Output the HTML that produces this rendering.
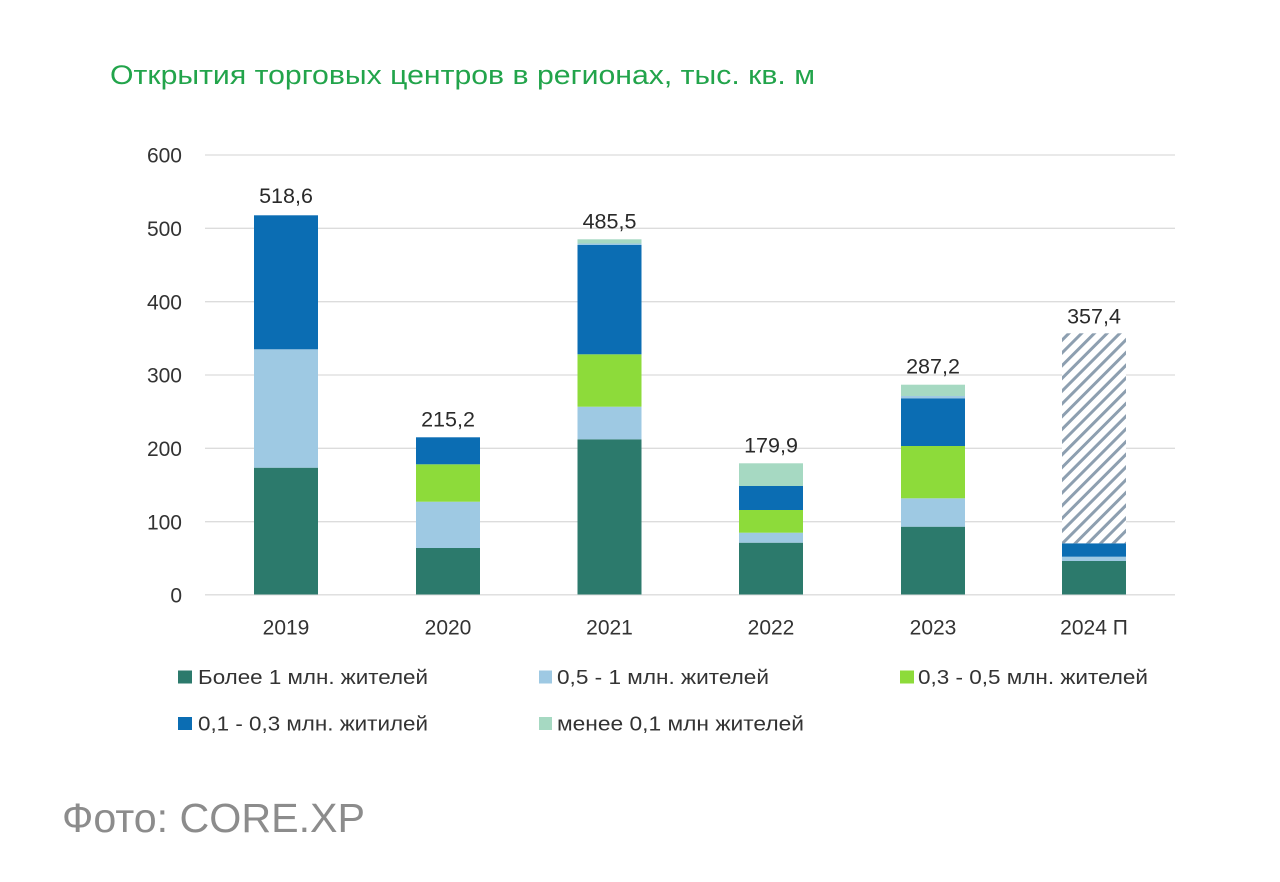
<!DOCTYPE html>
<html>
<head>
<meta charset="utf-8">
<style>
html,body{margin:0;padding:0;background:#ffffff;}
svg{display:block;}
text{font-family:"Liberation Sans","DejaVu Sans",sans-serif;}
</style>
</head>
<body>
<svg width="1280" height="882" viewBox="0 0 1280 882" xmlns="http://www.w3.org/2000/svg">
<defs>
<pattern id="hatch" patternUnits="userSpaceOnUse" width="9" height="9" patternTransform="rotate(45)">
<rect width="9" height="9" fill="#ffffff"/>
<rect x="0" y="0" width="3" height="9" fill="#8d9fb0"/>
</pattern>
</defs>
<rect width="1280" height="882" fill="#ffffff"/>

<!-- title -->
<text x="110" y="84" font-size="26.5" fill="#22a44b" textLength="705" lengthAdjust="spacingAndGlyphs">Открытия торговых центров в регионах, тыс. кв. м</text>

<!-- gridlines -->
<g stroke="#dcdcdc" stroke-width="1.3">
<line x1="205" y1="155" x2="1175" y2="155"/>
<line x1="205" y1="228.3" x2="1175" y2="228.3"/>
<line x1="205" y1="301.7" x2="1175" y2="301.7"/>
<line x1="205" y1="375" x2="1175" y2="375"/>
<line x1="205" y1="448.3" x2="1175" y2="448.3"/>
<line x1="205" y1="521.7" x2="1175" y2="521.7"/>
<line x1="205" y1="594.8" x2="1175" y2="594.8"/>
</g>

<!-- y tick labels -->
<g font-size="21" fill="#333333" text-anchor="end">
<text x="182" y="162.7">600</text>
<text x="182" y="236">500</text>
<text x="182" y="309.4">400</text>
<text x="182" y="382.7">300</text>
<text x="182" y="456">200</text>
<text x="182" y="529.4">100</text>
<text x="182" y="602.3">0</text>
</g>

<!-- 2019 -->
<rect x="254" y="467.7" width="64" height="126.8" fill="#2c7a6c"/>
<rect x="254" y="349.3" width="64" height="118.4" fill="#9ec9e3"/>
<rect x="254" y="215.3" width="64" height="134" fill="#0b6db3"/>

<!-- 2020 -->
<rect x="416" y="548" width="64" height="46.5" fill="#2c7a6c"/>
<rect x="416" y="501.7" width="64" height="46.3" fill="#9ec9e3"/>
<rect x="416" y="464.3" width="64" height="37.4" fill="#8ddb3a"/>
<rect x="416" y="437.3" width="64" height="27" fill="#0b6db3"/>

<!-- 2021 -->
<rect x="577.5" y="439.3" width="64" height="155.2" fill="#2c7a6c"/>
<rect x="577.5" y="406.7" width="64" height="32.6" fill="#9ec9e3"/>
<rect x="577.5" y="354.3" width="64" height="52.4" fill="#8ddb3a"/>
<rect x="577.5" y="245" width="64" height="109.3" fill="#0b6db3"/>
<rect x="577.5" y="243.5" width="64" height="1.5" fill="#9ec9e3"/>
<rect x="577.5" y="239.3" width="64" height="4.2" fill="#a6d9c2"/>

<!-- 2022 -->
<rect x="739" y="542.7" width="64" height="51.8" fill="#2c7a6c"/>
<rect x="739" y="532.7" width="64" height="10" fill="#9ec9e3"/>
<rect x="739" y="510" width="64" height="22.7" fill="#8ddb3a"/>
<rect x="739" y="486" width="64" height="24" fill="#0b6db3"/>
<rect x="739" y="463.3" width="64" height="22.7" fill="#a6d9c2"/>

<!-- 2023 -->
<rect x="901" y="526.7" width="64" height="67.8" fill="#2c7a6c"/>
<rect x="901" y="498.3" width="64" height="28.4" fill="#9ec9e3"/>
<rect x="901" y="446" width="64" height="52.3" fill="#8ddb3a"/>
<rect x="901" y="398.3" width="64" height="47.7" fill="#0b6db3"/>
<rect x="901" y="396" width="64" height="2.3" fill="#9ec9e3"/>
<rect x="901" y="384.7" width="64" height="11.3" fill="#a6d9c2"/>

<!-- 2024 -->
<rect x="1062" y="561" width="64" height="33.5" fill="#2c7a6c"/>
<rect x="1062" y="556.7" width="64" height="4.3" fill="#9ec9e3"/>
<rect x="1062" y="543.3" width="64" height="13.4" fill="#0b6db3"/>
<rect x="1062" y="333.3" width="64" height="210" fill="url(#hatch)"/>

<!-- value labels -->
<g font-size="21.5" fill="#2a2a2a" text-anchor="middle">
<text x="286" y="203">518,6</text>
<text x="448" y="426.7">215,2</text>
<text x="609.5" y="228.3">485,5</text>
<text x="771" y="452.3">179,9</text>
<text x="933" y="373.3">287,2</text>
<text x="1094" y="323.3">357,4</text>
</g>

<!-- x labels -->
<g font-size="21" fill="#333333" text-anchor="middle">
<text x="286" y="634.5">2019</text>
<text x="448" y="634.5">2020</text>
<text x="609.5" y="634.5">2021</text>
<text x="771" y="634.5">2022</text>
<text x="933" y="634.5">2023</text>
<text x="1094" y="634.5">2024 П</text>
</g>

<!-- legend -->
<rect x="178" y="670.5" width="14" height="13" fill="#2c7a6c"/>
<text x="198" y="684" font-size="20.5" fill="#333333" textLength="230" lengthAdjust="spacingAndGlyphs">Более 1 млн. жителей</text>

<rect x="539" y="670.5" width="13" height="13" fill="#9ec9e3"/>
<text x="557" y="684" font-size="20.5" fill="#333333" textLength="212" lengthAdjust="spacingAndGlyphs">0,5 - 1 млн. жителей</text>

<rect x="900" y="670.5" width="14" height="13" fill="#8ddb3a"/>
<text x="918" y="684" font-size="20.5" fill="#333333" textLength="230" lengthAdjust="spacingAndGlyphs">0,3 - 0,5 млн. жителей</text>

<rect x="178" y="717" width="14" height="13" fill="#0b6db3"/>
<text x="198" y="730.5" font-size="20.5" fill="#333333" textLength="230" lengthAdjust="spacingAndGlyphs">0,1 - 0,3 млн. житилей</text>

<rect x="539" y="717" width="13" height="13" fill="#a6d9c2"/>
<text x="557" y="730.5" font-size="20.5" fill="#333333" textLength="247" lengthAdjust="spacingAndGlyphs">менее 0,1 млн жителей</text>

<!-- footer -->
<text x="62" y="832" font-size="41" fill="#8c8c8c" textLength="303" lengthAdjust="spacingAndGlyphs">Фото: CORE.XP</text>
</svg>
</body>
</html>
